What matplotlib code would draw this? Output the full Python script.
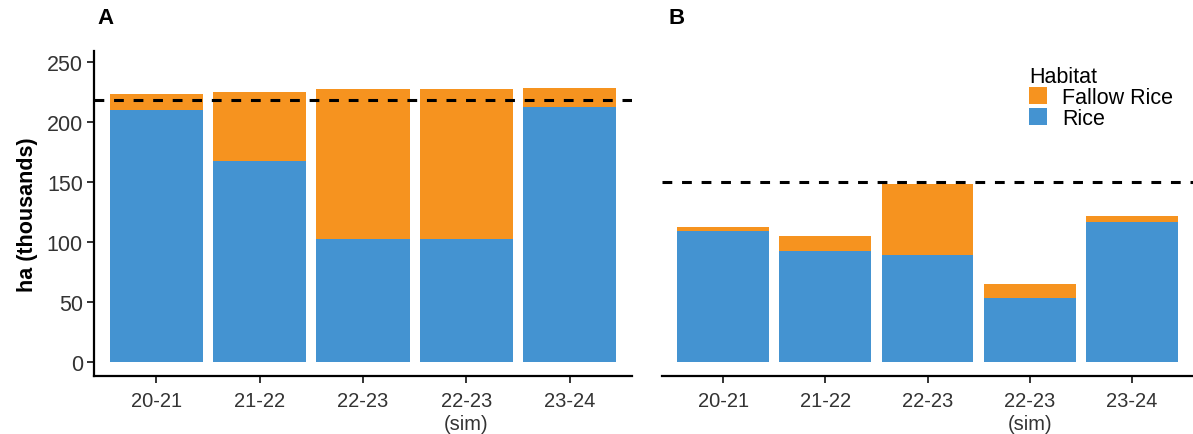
import matplotlib
matplotlib.use("Agg")
import matplotlib.pyplot as plt
import numpy as np
from matplotlib.patches import Patch

categories = ["20-21", "21-22", "22-23", "22-23\n(sim)", "23-24"]
rice_A = [209.5, 167, 102.5, 102.5, 212.5]
fallow_A = [14, 58, 125, 125, 15.3]
rice_B = [109, 92.5, 89, 53, 116]
fallow_B = [3, 12, 59, 12, 5.5]
target_A = 218
target_B = 150
yticks = [0, 50, 100, 150, 200, 250]

c_fallow = "#F6931F"
c_rice = "#4493D1"

plt.rcParams['font.family'] = ['Liberation Sans', 'DejaVu Sans']

fig = plt.figure(figsize=(11.93, 4.35), dpi=100)
W, H = 1193, 435
def ax_rect(l, r, t, b):
    return [l / W, 1 - b / H, (r - l) / W, (b - t) / H]

axA = fig.add_axes(ax_rect(94, 632, 52, 377))
axB = fig.add_axes(ax_rect(662, 1193, 52, 377))

x = np.arange(len(categories))
for ax, rice, fallow, tgt in [(axA, rice_A, fallow_A, target_A), (axB, rice_B, fallow_B, target_B)]:
    ax.bar(x, rice, width=0.9, color=c_rice, linewidth=0)
    ax.bar(x, fallow, bottom=rice, width=0.9, color=c_fallow, linewidth=0)
    ax.axhline(tgt, color="black", linestyle=(0, (3.2, 3.2)), linewidth=2.2)
    ax.set_xlim(-0.6, 4.6)
    ax.set_ylim(-12, 259)
    ax.set_xticks(x)
    ax.set_xticklabels(categories, fontsize=14.5, color="#333333", linespacing=1.25)
    for s in ["top", "right"]:
        ax.spines[s].set_visible(False)
    ax.spines["bottom"].set_linewidth(1.6)
    ax.spines["left"].set_linewidth(1.6)
    ax.tick_params(axis="x", length=5, width=1.4, color="#333333", pad=6)
    ax.tick_params(axis="y", length=5, width=1.4, color="#333333", pad=3)

axA.set_yticks(yticks)
axA.set_yticklabels([str(v) for v in yticks], fontsize=15.5, color="#333333")
axA.set_ylabel("ha (thousands)", fontsize=15.5, fontweight="bold", labelpad=6)

axB.spines["left"].set_visible(False)
axB.set_yticks([])

fig.text(97 / W, 1 - 18 / H, "A", fontsize=16, fontweight="bold", va="center", ha="left")
fig.text(668 / W, 1 - 18 / H, "B", fontsize=16, fontweight="bold", va="center", ha="left")

handles = [Patch(facecolor=c_fallow, edgecolor="none", label="Fallow Rice"),
           Patch(facecolor=c_rice, edgecolor="none", label="Rice")]
leg = axB.legend(handles=handles, title="Habitat", loc="upper left",
                 bbox_to_anchor=((1029 - 662) / (1193 - 662), (377 - 67) / (377 - 52)),
                 frameon=False, fontsize=15.5, title_fontsize=15.5,
                 handlelength=0.85, handleheight=0.85, handletextpad=0.7,
                 labelspacing=0.0, borderaxespad=0, borderpad=0)
leg._legend_box.align = "left"

fig.savefig("out.png", dpi=100)
